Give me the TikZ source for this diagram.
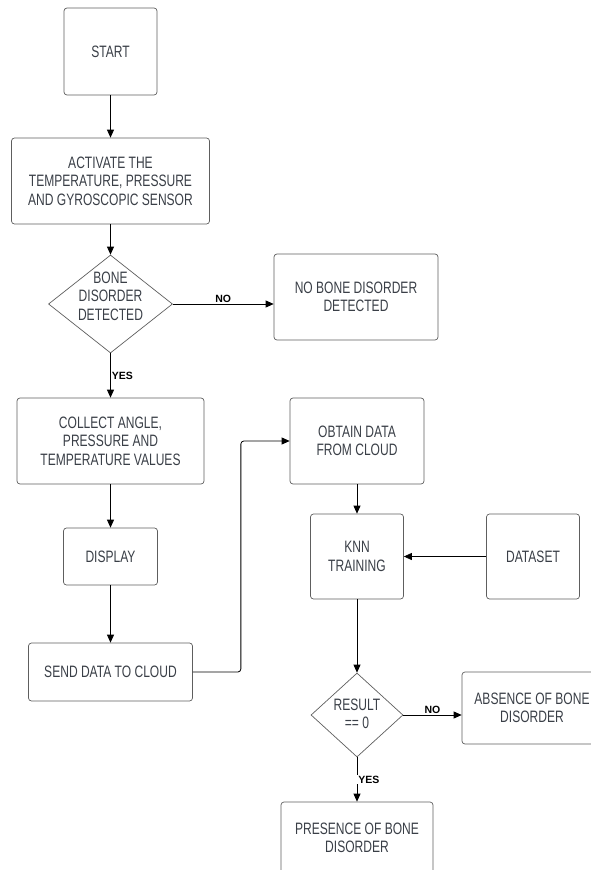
\documentclass[tikz,border=0pt]{standalone}
\usepackage{fontspec}
\setmainfont{Liberation Sans}
\newfontfamily\boxfont{Liberation Sans}[FakeStretch=0.73]
\usetikzlibrary{arrows.meta,shapes}
\definecolor{txtgray}{HTML}{3A3F47}
\definecolor{boxgray}{HTML}{5E5E5E}
\tikzstyle{block} = [rectangle, draw=boxgray, text=txtgray, align=center,
      rounded corners=3pt, inner sep=0pt, line width=0.7pt,
      font=\boxfont\fontsize{16.5}{18.5}\selectfont]
\tikzstyle{decision} = [diamond, draw=boxgray, text=txtgray, align=center,
      inner sep=-16pt, line width=0.7pt, font=\boxfont\fontsize{16.5}{18.5}\selectfont]
\tikzstyle{line} = [draw, line width=0.8pt, -{Triangle[length=8pt,width=7pt]}]
\tikzstyle{answer} = [fill=white, inner sep=1pt, font=\bfseries\fontsize{10.5}{12}\selectfont]

\begin{document}
\begin{tikzpicture}[x=1pt, y=1pt, node distance = 115.5pt, auto]
	  \path [use as bounding box, clip] (0,0) rectangle (591,-870);
	  % Nodes
	  \node [block, minimum width=93pt, minimum height=87pt] (start) at (110.5,-51.5) {START};
	  \node [block, below of=start, node distance=129.5pt, minimum width=198pt, minimum height=86pt] (activate)
	        {ACTIVATE THE\\TEMPERATURE, PRESSURE\\AND GYROSCOPIC SENSOR};
	  \node [decision, below of=activate, node distance=123pt, minimum width=124pt, minimum height=98pt, text depth=16pt] (detect)
	        {BONE\\DISORDER\\DETECTED};
	  \node [block, minimum width=164pt, minimum height=86pt] (nodisorder) at (356,-297)
	        {NO BONE DISORDER\\DETECTED};
	  \node [block, below of=detect, node distance=137pt, minimum width=187pt, minimum height=86pt] (collect)
	        {COLLECT ANGLE,\\PRESSURE AND\\TEMPERATURE VALUES};
	  \node [block, below of=collect, minimum width=94pt, minimum height=57pt] (display) {DISPLAY};
	  \node [block, below of=display, minimum width=164pt, minimum height=58pt] (send) {SEND DATA TO CLOUD};
	  \node [block, right of=collect, node distance=246.5pt, minimum width=134pt, minimum height=86pt] (obtain)
	        {OBTAIN DATA\\FROM CLOUD};
	  \node [block, below of=obtain, minimum width=93pt, minimum height=85pt] (knn) {KNN\\TRAINING};
	  \node [block, right of=knn, node distance=176pt, minimum width=93pt, minimum height=85pt] (dataset) {DATASET};
	  \node [decision, below of=knn, node distance=158.5pt, minimum width=92pt, minimum height=84pt, text depth=3pt] (result)
	        {RESULT\\== 0};
	  \node [block, minimum width=140pt, minimum height=72pt] (absence) at (532,-708)
	        {ABSENCE OF BONE\\DISORDER};
	  \node [block, below of=result, node distance=123pt, minimum width=152pt, minimum height=72pt] (presence)
	        {PRESENCE OF BONE\\DISORDER};
	  % Sensing branch
	  \path [line] (start) -- (activate);
	  \path [line] (activate) -- (detect);
	  \path [line] (detect.east) -- node[answer] {NO} (detect.east -| nodisorder.west);
	  \path [line] (detect) -- node[answer] {YES} (collect);
	  \path [line] (collect) -- (display);
	  \path [line] (display) -- (send);
	  % Cloud and classifier
	  \path [line, rounded corners=3pt] (send.east) -- ++(48,0) |- (obtain.west);
	  \path [line] (obtain) -- (knn);
	  \path [line] (dataset) -- (knn);
	  \path [line] (knn) -- (result);
	  \path [line] (result.east) -- node[answer] {NO} (result.east -| absence.west);
	  \path [line] (result) -- node[answer] {YES} (presence);
\end{tikzpicture}
\end{document}
